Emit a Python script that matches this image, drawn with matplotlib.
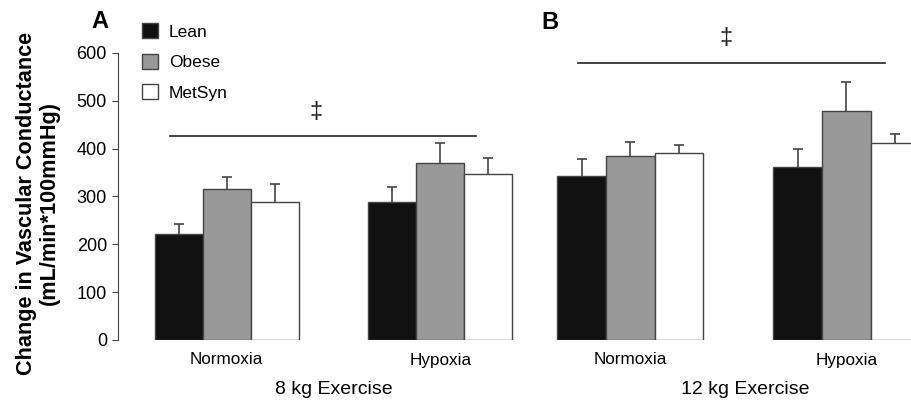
import matplotlib
matplotlib.use("Agg")
import matplotlib.pyplot as plt
import numpy as np

plt.rcParams['font.family'] = ['Liberation Sans', 'DejaVu Sans']

# data
conditions = ["Normoxia", "Hypoxia"]
groups = ["Lean", "Obese", "MetSyn"]
colors = ["#111111", "#999999", "#ffffff"]

# 8 kg exercise (panel A)
mean_8kg = {"Lean": [221, 289], "Obese": [315, 370], "MetSyn": [289, 346]}
err_8kg = {"Lean": [21, 31], "Obese": [26, 41], "MetSyn": [36, 34]}

# 12 kg exercise (panel B)
mean_12kg = {"Lean": [343, 362], "Obese": [385, 478], "MetSyn": [390, 412]}
err_12kg = {"Lean": [35, 38], "Obese": [29, 62], "MetSyn": [17, 19]}

panel_titles = ["8 kg Exercise", "12 kg Exercise"]

# significance bars: x start, x end, y level, symbol position
sig_A = {"x": [-0.266, 1.167], "y": 426, "sym_x": 0.418, "sym_y": 476}
sig_B = {"x": [-0.242, 1.179], "y": 578, "sym_x": 0.442, "sym_y": 630}

W, H = 911, 405
fig = plt.figure(figsize=(W / 100, H / 100), dpi=100)

bw = 0.225
edge = "#444444"


def draw_panel(ax, means, errs):
    x = np.arange(len(conditions))
    for i, g in enumerate(groups):
        xs = x + (i - 1) * bw
        ax.bar(xs, means[g], width=bw, color=colors[i], edgecolor=edge,
               linewidth=1.0, zorder=2, label=g)
        eb = ax.errorbar(xs, means[g], yerr=[np.zeros(len(xs)), errs[g]], fmt="none",
                         ecolor=edge, elinewidth=1.2, capsize=3.3, capthick=1.2, zorder=1)
        # only the upper cap is drawn in the original
        eb[1][0].set_visible(False)
    ax.set_ylim(0, 700)
    ax.set_xticks(x)
    ax.set_xticklabels(conditions, fontsize=12.3)
    ax.tick_params(axis="x", length=0, pad=9)
    for s in ["top", "right", "bottom"]:
        ax.spines[s].set_visible(False)


bottom = (H - 340) / H
height = 335 / H

# panel A
axA = fig.add_axes([118 / W, bottom, (530 - 118) / W, height])
draw_panel(axA, mean_8kg, err_8kg)
axA.set_xlim(-0.5096, 1.420)
axA.spines["left"].set_bounds(0, 600)
axA.spines["left"].set_color(edge)
axA.set_yticks(range(0, 601, 100))
axA.tick_params(axis="y", labelsize=13, length=4, pad=4, color=edge)

# panel B
axB = fig.add_axes([545 / W, bottom, (911 - 545) / W, height])
draw_panel(axB, mean_12kg, err_12kg)
axB.set_xlim(-0.395, 1.2995)
axB.spines["left"].set_visible(False)
axB.set_yticks([])

# exercise labels
axA.text(0.5, -0.147, panel_titles[0], transform=axA.get_xaxis_transform(),
         ha="center", va="center", fontsize=14)
axB.text(0.53, -0.147, panel_titles[1], transform=axB.get_xaxis_transform(),
         ha="center", va="center", fontsize=14)

# significance lines
for ax, sig in [(axA, sig_A), (axB, sig_B)]:
    ax.plot(sig["x"], [sig["y"], sig["y"]], color="#222222", lw=1.2, clip_on=False)
    ax.text(sig["sym_x"], sig["sym_y"], "\u2021", ha="center", va="center",
            fontsize=17, color="#222222")

# legend
axA.legend(loc="upper left", bbox_to_anchor=(142 / W, 1 - 23.5 / H),
           bbox_transform=fig.transFigure, frameon=False, fontsize=12.5,
           handlelength=0.95, handleheight=0.95, handletextpad=0.6,
           labelspacing=0.8, borderpad=0, borderaxespad=0)

# panel letters
fig.text(100 / W, 1 - 21.5 / H, "A", fontsize=17, fontweight="bold", ha="center", va="center")
fig.text(550 / W, 1 - 22.5 / H, "B", fontsize=17, fontweight="bold", ha="center", va="center")

# y label
fig.text(38 / W, 1 - 203 / H, "Change in Vascular Conductance\n(mL/min*100mmHg)",
         rotation=90, fontsize=15.6, fontweight="bold", ha="center", va="center",
         multialignment="center", linespacing=1.1)

fig.savefig("out.png", dpi=100)
